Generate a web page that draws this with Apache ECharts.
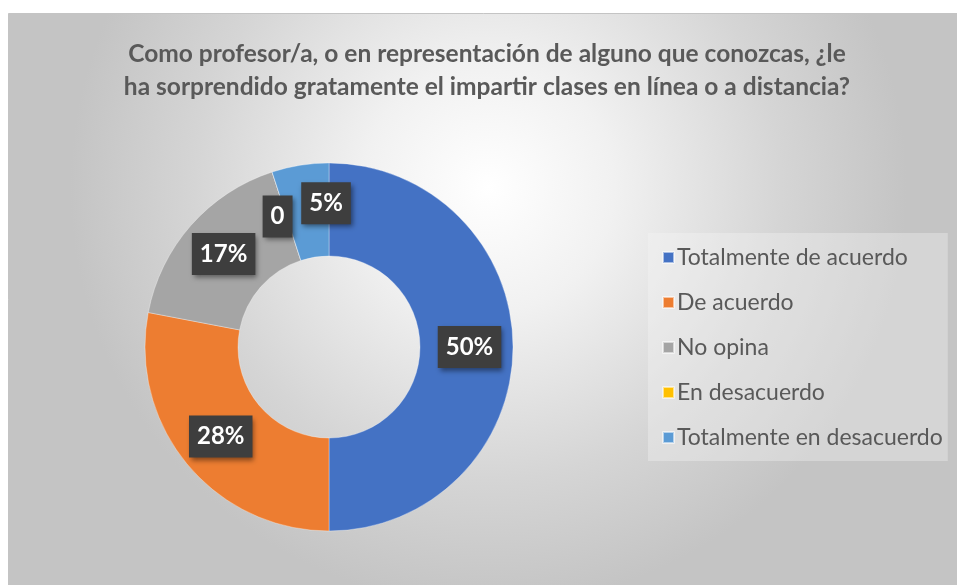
<!DOCTYPE html>
<html>
<head>
<meta charset="utf-8">
<script src="https://cdn.jsdelivr.net/npm/echarts@6/dist/echarts.min.js"></script>
<style>
  html, body { margin: 0; padding: 0; background: #ffffff; }
  #chart { width: 957px; height: 585px; }
</style>
</head>
<body>
<div id="chart"></div>
<script>
// ---- Data ----
const titleText = 'Como profesor/a, o en representación de alguno que conozcas, ¿le\nha sorprendido gratamente el impartir clases en línea o a distancia?';
const categories = ['Totalmente de acuerdo', 'De acuerdo', 'No opina', 'En desacuerdo', 'Totalmente en desacuerdo'];
const values = [50, 28, 17, 0, 5];
const colors = ['#4472C4', '#ED7D31', '#A5A5A5', '#FFC000', '#5B9BD5'];
// label nudges (style only) to mimic the reference's de-overlapped labels
const labelOffsets = [[0, 0], [0, 0], [0, 0], [-8, 3], [19, -5]];

const chart = echarts.init(document.getElementById('chart'), null, { renderer: 'canvas' });

const seriesData = categories.map((name, i) => ({
  name: name,
  value: values[i],
  itemStyle: { color: colors[i] },
  label: { offset: labelOffsets[i] }
}));

const option = {
  backgroundColor: '#ffffff',
  animation: false,
  graphic: [
    {
      type: 'rect',
      z: -10,
      silent: true,
      shape: { x: 8.5, y: 13.5, width: 960, height: 580 },
      style: {
        fill: {
          type: 'radial', x: 0.5, y: 0.3, r: 0.72,
          colorStops: [
            { offset: 0, color: '#ffffff' },
            { offset: 0.3, color: '#f1f1f1' },
            { offset: 0.7, color: '#d5d5d5' },
            { offset: 1, color: '#c4c4c4' }
          ]
        },
        stroke: '#c4c4c4',
        lineWidth: 1
      }
    }
  ],
  title: {
    text: titleText,
    left: 482,
    top: 33,
    textAlign: 'center',
    textStyle: {
      fontFamily: 'Lato',
      fontWeight: 'bold',
      fontSize: 24.5,
      lineHeight: 33,
      color: '#595959'
    }
  },
  legend: {
    orient: 'vertical',
    left: 648,
    top: 233,
    padding: [13, 5, 12, 14],
    backgroundColor: 'rgba(245,245,245,0.35)',
    itemWidth: 11,
    itemHeight: 11,
    itemGap: 22,
    icon: 'rect',
    data: categories,
    textStyle: {
      fontFamily: 'Lato',
      fontSize: 23,
      lineHeight: 23,
      color: '#595959',
      padding: [0, 0, 0, -2]
    }
  },
  series: [
    {
      type: 'pie',
      center: [329, 347],
      radius: [91, 184],
      startAngle: 90,
      clockwise: true,
      avoidLabelOverlap: false,
      stillShowZeroSum: true,
      itemStyle: {
        borderColor: 'rgba(255,255,255,0.55)',
        borderWidth: 0.6
      },
      label: {
        show: true,
        position: 'inside',
        formatter: p => (p.value === 0 ? '0' : p.value + '%'),
        fontFamily: 'Lato',
        fontWeight: 'bold',
        fontSize: 24,
        color: '#ffffff',
        backgroundColor: '#3e3e3e',
        padding: [10, 8, 8, 8],
        shadowColor: 'rgba(0,0,0,0.45)',
        shadowBlur: 5,
        shadowOffsetX: 2,
        shadowOffsetY: 3
      },
      labelLine: { show: false },
      emphasis: { disabled: true },
      data: seriesData
    }
  ]
};

chart.setOption(option);
</script>
</body>
</html>
